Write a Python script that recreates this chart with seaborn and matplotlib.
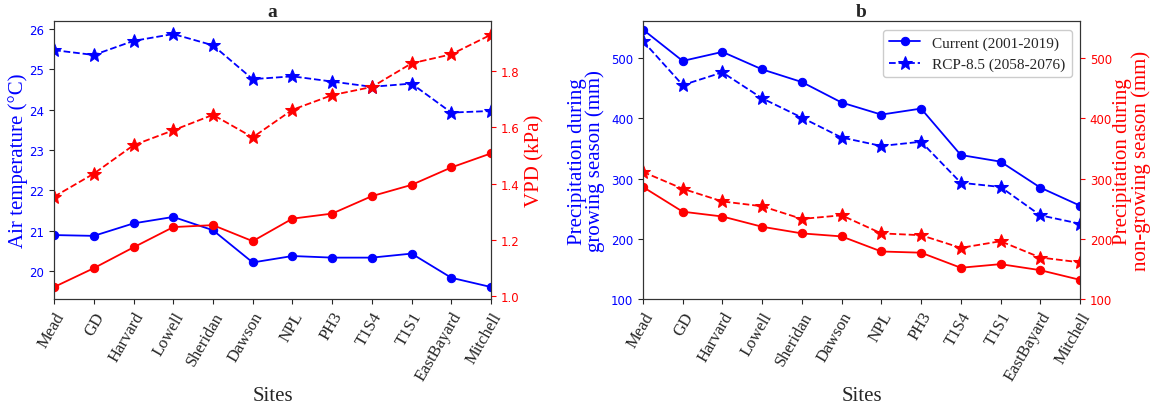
import matplotlib
matplotlib.use("Agg")
import matplotlib.pyplot as plt
import seaborn as sns
import pandas as pd

sites = ["Mead", "GD", "Harvard", "Lowell", "Sheridan", "Dawson", "NPL", "PH3",
         "T1S4", "T1S1", "EastBayard", "Mitchell"]

temp_current = [20.89, 20.87, 21.18, 21.34, 21.01, 20.21, 20.37, 20.33, 20.33, 20.43, 19.83, 19.6]
temp_rcp = [25.48, 25.36, 25.71, 25.88, 25.6, 24.76, 24.83, 24.70, 24.57, 24.65, 23.93, 23.97]
vpd_current = [1.033, 1.10, 1.174, 1.246, 1.253, 1.196, 1.276, 1.294, 1.356, 1.396, 1.458, 1.508]
vpd_rcp = [1.354, 1.436, 1.537, 1.59, 1.645, 1.565, 1.663, 1.715, 1.744, 1.828, 1.86, 1.93]

pg_current = [547, 495, 510, 481, 460, 426, 406, 416, 339, 328, 285, 255]
pg_rcp = [528, 455, 476, 433, 401, 368, 354, 361, 293, 286, 239, 225]
png_current = [286, 245, 237, 220, 209, 204, 179, 177, 152, 158, 148, 132]
png_rcp = [311, 283, 262, 254, 233, 239, 209, 206, 185, 196, 169, 161]

legend_labels = ["Current (2001-2019)", "RCP-8.5 (2058-2076)"]

sns.set_style("ticks")
plt.rcParams["font.family"] = ["DejaVu Sans"]
serif = ["Liberation Serif", "DejaVu Serif"]

df = pd.DataFrame({
    "site": sites,
    "temp_current": temp_current, "temp_rcp": temp_rcp,
    "vpd_current": vpd_current, "vpd_rcp": vpd_rcp,
    "pg_current": pg_current, "pg_rcp": pg_rcp,
    "png_current": png_current, "png_rcp": png_rcp,
})
df["pos"] = range(len(sites))

fig = plt.figure(figsize=(11.51, 4.10), dpi=100)
axa = fig.add_axes([0.047, 0.268, 0.3796, 0.678])
axb = fig.add_axes([0.5586, 0.268, 0.3797, 0.678])


def draw(ax, col, color, style, marker, ms, label=None):
    sns.lineplot(data=df, x="pos", y=col, ax=ax, color=color, linestyle=style,
                 marker=marker, markersize=ms, markeredgecolor=color,
                 sort=False, label=label, legend=False, linewidth=1.3)


# Panel a
draw(axa, "temp_current", "blue", "-", "o", 6)
draw(axa, "temp_rcp", "blue", "--", "*", 10)
axa2 = axa.twinx()
draw(axa2, "vpd_current", "red", "-", "o", 6)
draw(axa2, "vpd_rcp", "red", "--", "*", 10)
axa.set_ylim(19.3, 26.2)
axa2.set_ylim(0.99, 1.978)
axa.set_yticks([20, 21, 22, 23, 24, 25, 26])
axa2.set_yticks([1.0, 1.2, 1.4, 1.6, 1.8])
axa.set_ylabel("Air temperature (°C)", color="blue", fontsize=15, family=serif, labelpad=1)
axa2.set_ylabel("VPD (kPa)", color="red", fontsize=15, family=serif)
axa.set_title("a", fontsize=14, fontweight="bold", family=serif, pad=4)

# Panel b
draw(axb, "pg_current", "blue", "-", "o", 6, legend_labels[0])
draw(axb, "pg_rcp", "blue", "--", "*", 10, legend_labels[1])
axb2 = axb.twinx()
draw(axb2, "png_current", "red", "-", "o", 6)
draw(axb2, "png_rcp", "red", "--", "*", 10)
axb.set_ylim(100, 561)
axb2.set_ylim(100, 561)
axb.set_yticks([100, 200, 300, 400, 500])
axb2.set_yticks([100, 200, 300, 400, 500])
axb.set_ylabel("Precipitation during\ngrowing season (mm)", color="blue", fontsize=15,
               family=serif, linespacing=0.92)
axb2.set_ylabel("Precipitation during\nnon-growing season (mm)", color="red", fontsize=15,
                family=serif, linespacing=0.92, labelpad=1)
axb.set_title("b", fontsize=14, fontweight="bold", family=serif, pad=4)
leg = axb.legend(loc="upper right", prop={"family": serif, "size": 11}, framealpha=1,
                 handlelength=2.0, borderaxespad=0.55)

for ax, ax2 in [(axa, axa2), (axb, axb2)]:
    ax.set_xlim(0, len(sites) - 1)
    ax.set_xticks(range(len(sites)))
    ax.set_xticklabels(sites, rotation=60, fontsize=12, family=serif,
                       ha="right", rotation_mode="anchor")
    ax.set_xlabel("Sites", fontsize=15, family=serif, labelpad=2)
    ax.tick_params(axis="y", labelcolor="blue", labelsize=8.5)
    ax2.tick_params(axis="y", labelcolor="red", labelsize=8.5, color="red")
    for sp in ax2.spines.values():
        sp.set_color("#333333")

fig.savefig("out.png", dpi=100)
